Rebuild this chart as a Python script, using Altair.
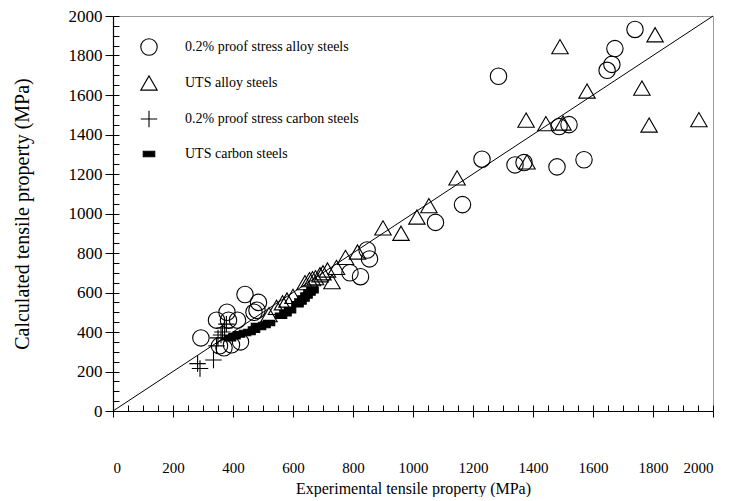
import altair as alt
import pandas as pd

series_names = [
    "0.2% proof stress alloy steels",
    "UTS alloy steels",
    "0.2% proof stress carbon steels",
    "UTS carbon steels",
]

# 0.2% proof stress alloy steels (circles)
circle_x = [293, 345, 355, 370, 380, 385, 395, 415, 425, 440, 470, 485, 480,
            790, 825, 847, 855, 1075, 1165, 1230, 1285, 1340, 1370, 1480,
            1487, 1520, 1570, 1647, 1663, 1673, 1740]
circle_y = [370, 460, 330, 320, 500, 460, 335, 460, 350, 590, 500, 550, 510,
            700, 680, 815, 770, 955, 1045, 1275, 1695, 1246, 1258, 1236,
            1440, 1450, 1272, 1725, 1755, 1835, 1932]

# UTS alloy steels (triangles)
tri_x = [520, 545, 565, 580, 600, 640, 655, 665, 675, 690, 700, 715, 730, 745,
         775, 815, 900, 960, 1013, 1053, 1147, 1380, 1377, 1443, 1500, 1490,
         1580, 1763, 1787, 1807, 1953]
tri_y = [488, 525, 548, 562, 580, 650, 665, 670, 675, 690, 700, 714, 655, 727,
         778, 805, 927, 900, 982, 1040, 1180, 1261, 1473, 1455, 1458, 1845,
         1620, 1635, 1448, 1905, 1475]

# 0.2% proof stress carbon steels (plus)
plus_x = [282, 290, 335, 345, 350, 360, 365, 372, 378]
plus_y = [240, 215, 258, 330, 370, 385, 400, 420, 440]

# UTS carbon steels (bars)
bar_x = [390, 405, 420, 440, 455, 470, 480, 490, 505, 520, 560, 575, 590, 615,
         625, 635, 645, 655, 665]
bar_y = [368, 378, 388, 395, 400, 412, 430, 425, 435, 445, 482, 495, 510, 540,
         555, 570, 585, 600, 612]

diag = [0, 2000]
major_ticks = list(range(0, 2001, 200))
minor_ticks = list(range(0, 2001, 50))

rows = []
for name, xs, ys in zip(series_names, [circle_x, tri_x, plus_x, bar_x],
                        [circle_y, tri_y, plus_y, bar_y]):
    for a, b in zip(xs, ys):
        rows.append({"exp": a, "calc": b, "series": name})
df = pd.DataFrame(rows)
line_df = pd.DataFrame({"exp": diag, "calc": diag})

plus_path = "M-1,0L1,0M0,-1L0,1"
bar_path = "M-0.7,-0.33L0.7,-0.33L0.7,0.33L-0.7,0.33Z"

SERIF = "Liberation Serif"

xscale = alt.Scale(domain=[0, 2000], nice=False, zero=True)
yscale = alt.Scale(domain=[0, 2000], nice=False, zero=True)

legend = alt.Legend(
    title=None, orient="none", legendX=27, legendY=22,
    symbolSize=270, symbolStrokeWidth=1.1,
    labelFont=SERIF, labelFontSize=14, labelColor="black",
    labelLimit=400, rowPadding=15, labelOffset=27, padding=0,
)

points = alt.Chart(df).mark_point(size=270, strokeWidth=1.1, opacity=1).encode(
    x=alt.X("exp:Q", scale=xscale, axis=alt.Axis(
        values=major_ticks, tickSize=6, labelPadding=43, format="d",
        labelFont=SERIF, labelFontSize=15, titleFont=SERIF,
        title="Experimental tensile property (MPa)", titlePadding=5)),
    y=alt.Y("calc:Q", scale=yscale, axis=alt.Axis(
        values=major_ticks, tickSize=8, labelPadding=3, format="d",
        labelFont=SERIF, labelFontSize=17, titleFont=SERIF, titleFontSize=20,
        title="Calculated tensile property (MPa)", titlePadding=36)),
    shape=alt.Shape("series:N", scale=alt.Scale(
        domain=series_names, range=["circle", "triangle-up", plus_path, bar_path]),
        legend=legend),
    fill=alt.Fill("series:N", scale=alt.Scale(
        domain=series_names, range=["transparent", "transparent", "transparent", "black"]),
        legend=legend),
    stroke=alt.Stroke("series:N", scale=alt.Scale(
        domain=series_names, range=["black", "black", "black", "black"]),
        legend=legend),
)

line = alt.Chart(line_df).mark_line(color="black", strokeWidth=1).encode(
    x=alt.X("exp:Q", scale=xscale, axis=alt.Axis(
        orient="bottom", offset=-6, values=minor_ticks, tickSize=6,
        labels=False, domain=False, title=None)),
    y=alt.Y("calc:Q", scale=yscale, axis=alt.Axis(
        orient="left", offset=-6, values=minor_ticks, tickSize=6,
        labels=False, domain=False, title=None)),
)

chart = alt.layer(points, line).resolve_axis(x="independent", y="independent").properties(
    width=600, height=395,
    autosize=alt.AutoSizeParams(type="none"),
    padding={"left": 105, "top": 8, "right": 20, "bottom": 86},
).configure_view(stroke="#999999", strokeWidth=1).configure_axis(
    grid=False, domainColor="black", tickColor="black", domainWidth=1.2, tickWidth=1,
    labelFont=SERIF, labelFontSize=14, labelColor="black",
    titleFont=SERIF, titleFontSize=16, titleColor="black",
    titleFontWeight="normal",
)

chart.save("out.html", embed_options={"renderer": "svg", "actions": False})
